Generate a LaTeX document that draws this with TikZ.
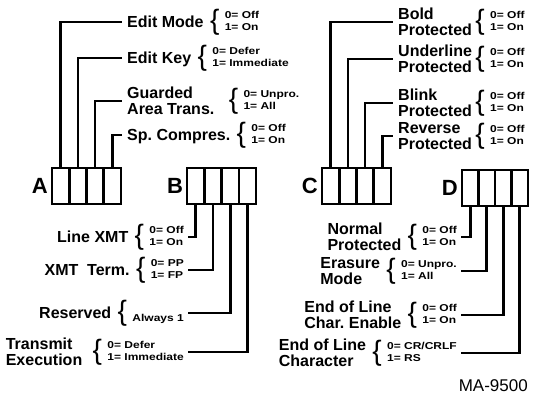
\documentclass[tikz,border=0pt]{standalone}
\usepackage{fontspec}
\setmainfont{Liberation Sans}
\newfontfamily\widefont[FakeStretch=1.2]{Liberation Sans}
\usetikzlibrary{positioning}
\newcommand{\pair}[2]{\begin{tabular}{@{}l@{}}#1\\#2\end{tabular}}

\begin{document}
\begin{tikzpicture}[x=1pt, y=-1pt,
    cell/.style={draw, line width=2.6pt, minimum width=17.25pt, minimum height=36pt, inner sep=0pt, outer sep=0pt},
    letter/.style={font=\bfseries\fontsize{22}{22}\selectfont, inner sep=0pt},
    lbl/.style={font=\bfseries\fontsize{16}{16}\selectfont, align=left, inner xsep=5pt, inner ysep=0pt},
    one/.style={text height=11.5pt, text depth=0pt},
    brc/.style={font=\fontsize{28}{28}\selectfont, inner xsep=1pt, inner ysep=0pt},
    opt/.style={font=\widefont\bfseries\fontsize{10}{12}\selectfont, inner xsep=4pt, inner ysep=0pt},
    wire/.style={line width=2.6pt}]
    \useasboundingbox (0,0) rectangle (533,403);

    % register boxes
    \node[cell] (a1) at (60.6,186) {};
    \node[cell, right=0pt of a1] (a2) {};
    \node[cell, right=0pt of a2] (a3) {};
    \node[cell, right=0pt of a3] (a4) {};
    \node[letter, left=4pt of a1] (A) {A};

    \node[cell] (b1) at (195.75,186) {};
    \node[cell, right=0pt of b1] (b2) {};
    \node[cell, right=0pt of b2] (b3) {};
    \node[cell, right=0pt of b3] (b4) {};
    \node[letter, left=4pt of b1] (B) {B};

    \node[cell] (c1) at (330.6,186) {};
    \node[cell, right=0pt of c1] (c2) {};
    \node[cell, right=0pt of c2] (c3) {};
    \node[cell, right=0pt of c3] (c4) {};
    \node[letter, left=4pt of c1] (C) {C};

    \node[cell, minimum width=16.5pt] (d1) at (470.25,188) {};
    \node[cell, minimum width=16.5pt, right=0pt of d1] (d2) {};
    \node[cell, minimum width=16.5pt, right=0pt of d2] (d3) {};
    \node[cell, minimum width=16.5pt, right=0pt of d3] (d4) {};
    \node[letter, left=4pt of d1] (D) {D};

    % A
    \node[lbl, one, anchor=west] (editmode) at (122,22) {Edit Mode};
    \node[brc, right=0pt of editmode] (editmodeb) {\{};
    \node[opt, right=0pt of editmodeb] (editmodeo) {\pair{0= Off}{1= On}};
    \node[lbl, one, anchor=west] (editkey) at (122,58) {Edit Key};
    \node[brc, right=0pt of editkey] (editkeyb) {\{};
    \node[opt, right=0pt of editkeyb] (editkeyo) {\pair{0= Defer}{1= Immediate}};
    \node[lbl, anchor=west] (guarded) at (122,101) {Guarded\\Area Trans.};
    \node[brc, right=8pt of guarded] (guardedb) {\{};
    \node[opt, right=0pt of guardedb] (guardedo) {\pair{0= Unpro.}{1= All}};
    \node[lbl, one, anchor=west] (spcomp) at (122,135) {Sp.\ Compres.};
    \node[brc, right=0pt of spcomp] (spcompb) {\{};
    \node[opt, right=0pt of spcompb] (spcompo) {\pair{0= Off}{1= On}};

    \draw[wire] (a1.north) |- (editmode.west);
    \draw[wire] (a2.north) |- (editkey.west);
    \draw[wire] (a3.north) |- (guarded.west);
    \draw[wire] (a4.north) |- (spcomp.west);

    % B
    \node[opt, anchor=east] (linexmto) at (188,237) {\pair{0= Off}{1= On}};
    \node[brc, left=0pt of linexmto] (linexmtb) {\{};
    \node[lbl, one, left=0pt of linexmtb] (linexmt) {Line XMT};
    \node[opt, anchor=east] (xmttermo) at (188,270) {\pair{0= PP}{1= FP}};
    \node[brc, left=0pt of xmttermo] (xmttermb) {\{};
    \node[lbl, one, left=0pt of xmttermb] (xmtterm) {XMT\ \ Term.};
    \node[opt, anchor=east] (reservedo) at (188,313) {\pair{}{Always 1}};
    \node[brc, left=0pt of reservedo] (reservedb) {\{};
    \node[lbl, one, left=0pt of reservedb] (reserved) {Reserved};
    \node[opt, anchor=east] (transmito) at (188,352) {\pair{0= Defer}{1= Immediate}};
    \node[brc, left=0pt of transmito] (transmitb) {\{};
    \node[lbl, left=4pt of transmitb] (transmit) {Transmit\\Execution};

    \draw[wire] (b1.south) |- (linexmto.east);
    \draw[wire] (b2.south) |- (xmttermo.east);
    \draw[wire] (b3.south) |- (reservedo.east);
    \draw[wire] (b4.south) |- (transmito.east);

    % C
    \node[opt, anchor=west] (boldo) at (486,22) {\pair{0= Off}{1= On}};
    \node[brc, left=0pt of boldo] (boldb) {\{};
    \node[lbl, anchor=west] (bold) at (393,22) {Bold\\Protected};
    \node[opt, anchor=west] (underlineo) at (486,59) {\pair{0= Off}{1= On}};
    \node[brc, left=0pt of underlineo] (underlineb) {\{};
    \node[lbl, anchor=west] (underline) at (393,59) {Underline\\Protected};
    \node[opt, anchor=west] (blinko) at (486,103) {\pair{0= Off}{1= On}};
    \node[brc, left=0pt of blinko] (blinkb) {\{};
    \node[lbl, anchor=west] (blink) at (393,103) {Blink\\Protected};
    \node[opt, anchor=west] (reverseo) at (486,136) {\pair{0= Off}{1= On}};
    \node[brc, left=0pt of reverseo] (reverseb) {\{};
    \node[lbl, anchor=west] (reverse) at (393,136) {Reverse\\Protected};

    \draw[wire] (c1.north) |- (bold.west);
    \draw[wire] (c2.north) |- (underline.west);
    \draw[wire] (c3.north) |- (blink.west);
    \draw[wire] (c4.north) |- (reverse.west);

    % D
    \node[opt, anchor=east] (normalo) at (461,237) {\pair{0= Off}{1= On}};
    \node[brc, left=0pt of normalo] (normalb) {\{};
    \node[lbl, left=0pt of normalb] (normal) {Normal\\Protected};
    \node[opt, anchor=east] (erasureo) at (461,271) {\pair{0= Unpro.}{1= All}};
    \node[brc, left=0pt of erasureo] (erasureb) {\{};
    \node[lbl, left=0pt of erasureb] (erasure) {Erasure\\Mode};
    \node[opt, anchor=east] (eolenableo) at (461,315) {\pair{0= Off}{1= On}};
    \node[brc, left=0pt of eolenableo] (eolenableb) {\{};
    \node[lbl, left=0pt of eolenableb] (eolenable) {End of Line\\Char.\ Enable};
    \node[opt, anchor=east] (eolcharo) at (461,353) {\pair{0= CR/CRLF}{1= RS}};
    \node[brc, left=0pt of eolcharo] (eolcharb) {\{};
    \node[lbl, left=0pt of eolcharb] (eolchar) {End of Line\\Character};

    \draw[wire] (d1.south) |- (normalo.east);
    \draw[wire] (d2.south) |- (erasureo.east);
    \draw[wire] (d3.south) |- (eolenableo.east);
    \draw[wire] (d4.south) |- (eolcharo.east);

    \node[font=\fontsize{17}{17}\selectfont, anchor=east, inner sep=0pt] (code) at (528,386) {MA-9500};
\end{tikzpicture}
\end{document}
